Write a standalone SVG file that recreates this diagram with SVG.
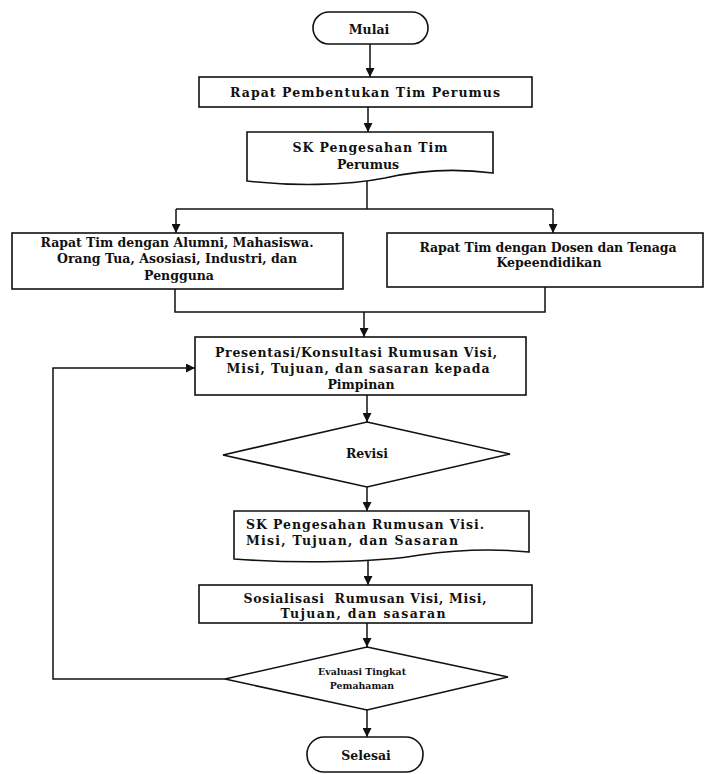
<svg xmlns="http://www.w3.org/2000/svg" width="705" height="774" viewBox="0 0 705 774">
<defs>
<marker id="ah" viewBox="0 0 10 10" refX="10" refY="5" markerWidth="9" markerHeight="9" markerUnits="userSpaceOnUse" orient="auto">
<path d="M0,0 L10,5 L0,10 z" fill="#111"/>
</marker>
</defs>
<style>
.s{fill:#fff;stroke:#111;stroke-width:1.6}
.c{fill:none;stroke:#111;stroke-width:1.5;marker-end:url(#ah)}
.l{fill:none;stroke:#111;stroke-width:1.5}
text{font-family:"DejaVu Serif","Liberation Serif",serif;font-weight:bold;fill:#111;font-size:12.5px}
.m{text-anchor:middle}
</style>
<rect width="705" height="774" fill="#fff"/>
<g id="connectors">
<line class="c" x1="370" y1="44" x2="370" y2="77"/>
<line class="c" x1="368" y1="107" x2="368" y2="132"/>
<line class="l" x1="367" y1="180" x2="367" y2="209"/>
<polyline class="l" points="176,209 553,209"/>
<line class="c" x1="176" y1="209" x2="176" y2="233"/>
<line class="c" x1="553" y1="209" x2="553" y2="233"/>
<polyline class="l" points="175,289 175,312 545,312 545,287"/>
<line class="c" x1="364" y1="312" x2="364" y2="337"/>
<line class="c" x1="367" y1="395" x2="367" y2="422"/>
<line class="c" x1="367" y1="487" x2="367" y2="511"/>
<line class="c" x1="368" y1="556" x2="368" y2="585"/>
<line class="c" x1="367" y1="623" x2="367" y2="647"/>
<line class="c" x1="367" y1="710" x2="367" y2="737"/>
<polyline class="c" points="225,679 53,679 53,368 195,368"/>
</g>
<g id="mulai">
<rect class="s" x="313" y="12" width="115" height="32" rx="16"/>
<text class="m" x="369" y="33.5" font-size="15">Mulai</text>
</g>
<g id="rapat-pembentukan">
<rect class="s" x="199" y="77" width="333" height="30"/>
<text class="m" x="365" y="97" font-size="14" textLength="270">Rapat Pembentukan Tim Perumus</text>
</g>
<g id="sk-tim">
<path class="s" d="M247,132 H493 V173 C455,168 420,170 385,178 C345,186 290,186 247,181 Z"/>
<text class="m" x="370" y="152" font-size="14" textLength="155">SK Pengesahan Tim</text>
<text class="m" x="368" y="169" font-size="14">Perumus</text>
</g>
<g id="rapat-alumni">
<rect class="s" x="12" y="233" width="331" height="56"/>
<text class="m" x="177" y="246.5" textLength="273">Rapat Tim dengan Alumni, Mahasiswa.</text>
<text class="m" x="177" y="262.5" textLength="240">Orang Tua, Asosiasi, Industri, dan</text>
<text class="m" x="179" y="279.5">Pengguna</text>
</g>
<g id="rapat-dosen">
<rect class="s" x="387" y="233" width="316" height="54"/>
<text class="m" x="548" y="252" textLength="257">Rapat Tim dengan Dosen dan Tenaga</text>
<text class="m" x="549" y="267">Kepeendidikan</text>
</g>
<g id="presentasi">
<rect class="s" x="195" y="337" width="331" height="58"/>
<text class="m" x="356" y="357" font-size="14" textLength="282">Presentasi/Konsultasi Rumusan Visi,</text>
<text class="m" x="358" y="373" font-size="14" textLength="263">Misi, Tujuan, dan sasaran kepada</text>
<text class="m" x="361" y="389" font-size="14">Pimpinan</text>
</g>
<g id="revisi">
<polygon class="s" points="367,422 510,454 367,487 223,455"/>
<text class="m" x="367" y="458" font-size="14">Revisi</text>
</g>
<g id="sk-rumusan">
<path class="s" d="M234,511 H529 V552 C490,548 455,550 420,555 C380,562 300,564 234,559 Z"/>
<text x="246" y="529" font-size="13.5" textLength="238">SK Pengesahan Rumusan Visi.</text>
<text x="246" y="545" font-size="13.5" textLength="212">Misi, Tujuan, dan Sasaran</text>
</g>
<g id="sosialisasi">
<rect class="s" x="199" y="585" width="333" height="38"/>
<text class="m" x="365" y="602.5" font-size="13.5" textLength="243" xml:space="preserve">Sosialisasi  Rumusan Visi, Misi,</text>
<text class="m" x="363" y="618" font-size="13.5" textLength="165">Tujuan, dan sasaran</text>
</g>
<g id="evaluasi">
<polygon class="s" points="367,647 508,677 367,710 225,679"/>
<text class="m" transform="translate(362,675) scale(0.75)" font-size="11">Evaluasi Tingkat</text>
<text class="m" transform="translate(362,689) scale(0.75)" font-size="11">Pemahaman</text>
</g>
<g id="selesai">
<rect class="s" x="307" y="737" width="116" height="35" rx="17"/>
<text class="m" x="366" y="760" font-size="15">Selesai</text>
</g>
</svg>
